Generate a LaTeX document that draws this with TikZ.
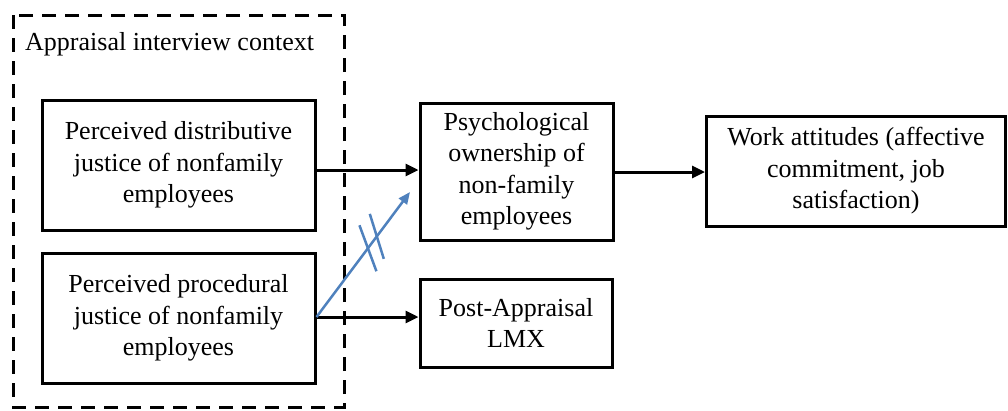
\documentclass[tikz,border=0pt]{standalone}
\usepackage{fontspec}
\setmainfont{Liberation Serif}
\usetikzlibrary{arrows.meta,calc}
\definecolor{linkblue}{RGB}{79,129,189}
\begin{document}
\begin{tikzpicture}[x=1pt,y=-1pt,
  font=\fontsize{26}{31.5}\selectfont,
  box/.style={draw=black,line width=3pt,align=center,inner sep=0pt},
  flow/.style={line width=3pt,-{Triangle[length=13pt,width=12pt]}},
  weak/.style={draw=linkblue,line width=2.5pt},
  context/.style={draw=black,line width=3pt,dash pattern=on 14pt off 9pt}]
\useasboundingbox (0,0) rectangle (1008,410);

% context frame and its caption
\draw[context] (13,15) rectangle (344,407);
\node[anchor=base west,inner sep=0pt] (ctx) at (25,50) {Appraisal interview context};

% justice perceptions
\node[box,minimum width=273pt,minimum height=130pt] (dist) at (178.5,165)
  {Perceived distributive\\justice of nonfamily\\employees};
\node[box,minimum width=273pt,minimum height=130pt] (proc) at (178.5,318)
  {Perceived procedural\\justice of nonfamily\\employees};

% outcomes
\node[box,minimum width=193pt,minimum height=137pt] (own) at (516.5,171.5)
  {Psychological\\ownership of\\non-family\\employees};
\node[box,minimum width=192pt,minimum height=88pt] (lmx) at (516,323)
  {Post-Appraisal\\LMX};
\node[box,minimum width=299pt,minimum height=110pt] (work) at (856,171)
  {Work attitudes (affective\\commitment, job\\satisfaction)};

% main paths
\draw[flow] (dist.east |- 0,170) -- (own.west |- 0,170);
\draw[flow] (proc.east |- 0,317) -- (lmx.west |- 0,317);
\draw[flow] (own.east |- 0,172) -- (work.west |- 0,172);

% unsupported path, crossed out
\coordinate (tip) at (410,192);
\draw[weak,-{Triangle[length=12pt,width=10pt]}] (proc.east |- 0,317) -- (tip)
  coordinate[pos=0.55] (cut1) coordinate[pos=0.645] (cut2);
\draw[weak] ($(cut1)+(-8.5,-23)$) -- ++(17,46);
\draw[weak] ($(cut2)+(-7,-22.5)$) -- ++(14,45);
\end{tikzpicture}
\end{document}
